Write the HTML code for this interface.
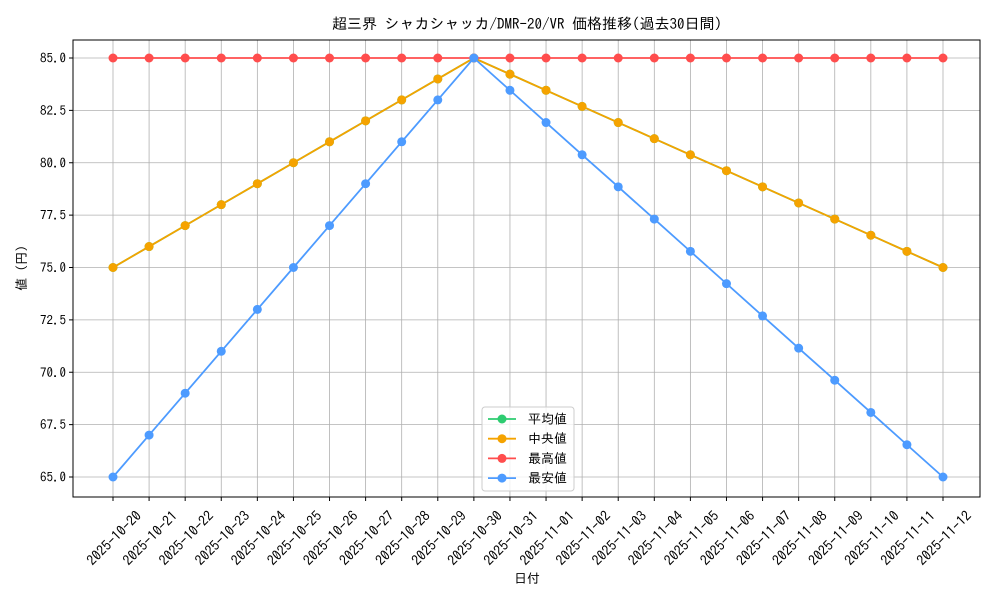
<!DOCTYPE html>
<html><head><meta charset="utf-8">
<style>
body{margin:0;background:#fff;}
svg text{font-family:"IPAGothic","Liberation Sans","Noto Sans CJK JP",sans-serif;}
</style></head>
<body>
<svg id="chart" width="1000" height="600" xmlns="http://www.w3.org/2000/svg"></svg>
<script>
const categories=["2025-10-20","2025-10-21","2025-10-22","2025-10-23","2025-10-24","2025-10-25","2025-10-26","2025-10-27","2025-10-28","2025-10-29","2025-10-30","2025-10-31","2025-11-01","2025-11-02","2025-11-03","2025-11-04","2025-11-05","2025-11-06","2025-11-07","2025-11-08","2025-11-09","2025-11-10","2025-11-11","2025-11-12"];
const avgValues=[75,76,77,78,79,80,81,82,83,84,85,84.23,83.46,82.69,81.92,81.15,80.38,79.62,78.85,78.08,77.31,76.54,75.77,75];
const medianValues=[75,76,77,78,79,80,81,82,83,84,85,84.23,83.46,82.69,81.92,81.15,80.38,79.62,78.85,78.08,77.31,76.54,75.77,75];
const maxValues=[85,85,85,85,85,85,85,85,85,85,85,85,85,85,85,85,85,85,85,85,85,85,85,85];
const minValues=[65,67,69,71,73,75,77,79,81,83,85,83.46,81.92,80.38,78.85,77.31,75.77,74.23,72.69,71.15,69.62,68.08,66.54,65];
const yTicks=[65,67.5,70,72.5,75,77.5,80,82.5,85];
const seriesNames=["平均値","中央値","最高値","最安値"];

const svg=document.getElementById('chart');
const NS="http://www.w3.org/2000/svg";
const L=73,R=980,T=40,B=497;
const x=i=>113+i*(943-113)/(categories.length-1);
const y=v=>58+(85-v)*(477-58)/20;
function mk(tag,attrs,parent){const e=document.createElementNS(NS,tag);for(const k in attrs)e.setAttribute(k,attrs[k]);(parent||svg).appendChild(e);return e;}

categories.forEach((c,i)=>{
 const g=mk('line',{x1:x(i),x2:x(i),y1:T,y2:B,stroke:'#b0b0b0','stroke-width':0.8});
 
 
});
yTicks.forEach(v=>{
 const g=mk('line',{x1:L,x2:R,y1:y(v),y2:y(v),stroke:'#b0b0b0','stroke-width':0.8});
 
 
});
const fr=mk('rect',{x:L,y:T,width:R-L,height:B-T,fill:'none',stroke:'#000','stroke-width':1});


yTicks.forEach(v=>{
 mk('line',{x1:L-4,x2:L,y1:y(v),y2:y(v),stroke:'#000'});
 const t=mk('text',{x:L-7,y:y(v)+4.5,'text-anchor':'end','font-size':13});
 t.textContent=v.toFixed(1);
 
 
});
categories.forEach((c,i)=>{
 mk('line',{x1:x(i),x2:x(i),y1:B,y2:B+4,stroke:'#000'});
 const cx=x(i)+1, cy=538;
 const t=mk('text',{x:cx,y:cy,'text-anchor':'middle','dominant-baseline':'central','font-size':14,transform:`rotate(-45 ${cx} ${cy})`});
 t.textContent=c;
 
 
});
const colors=['#2ecc71','#f5a300','#ff4d4d','#4d9bff'];
const data=[avgValues,medianValues,maxValues,minValues];
const keys=['average','median','max','min'];
data.forEach((vals,s)=>{
 const g=mk('g',{});
 
 
 mk('polyline',{points:vals.map((v,i)=>x(i)+','+y(v)).join(' '),fill:'none',stroke:colors[s],'stroke-width':1.8},g);
 vals.forEach((v,i)=>{
  const p=mk('circle',{cx:x(i),cy:y(v),r:4.5,fill:colors[s]},g);
  
  
 });
});
let t=mk('text',{x:527,y:29,'text-anchor':'middle','font-size':15});
t.textContent='超三界 シャカシャッカ/DMR-20/VR 価格推移(過去30日間)';

t=mk('text',{x:527,y:583,'text-anchor':'middle','font-size':13});
t.textContent='日付';

t=mk('text',{x:26,y:268,'text-anchor':'middle','font-size':13,transform:'rotate(-90 26 268)'});
t.textContent='値 (円)';

const lg=mk('g',{});

mk('rect',{x:482,y:407,width:92,height:84,rx:3,fill:'#fff','fill-opacity':0.8,stroke:'#ccc'},lg);
seriesNames.forEach((n,s)=>{
 const yy=419+s*19.7;
 const e=mk('g',{},lg);
 
 
 mk('line',{x1:488,x2:516,y1:yy,y2:yy,stroke:colors[s],'stroke-width':1.8},e);
 mk('circle',{cx:502,cy:yy,r:4.5,fill:colors[s]},e);
 const tx=mk('text',{x:528,y:yy+4.5,'font-size':13},e);
 tx.textContent=n;
});
</script>
</body></html>
